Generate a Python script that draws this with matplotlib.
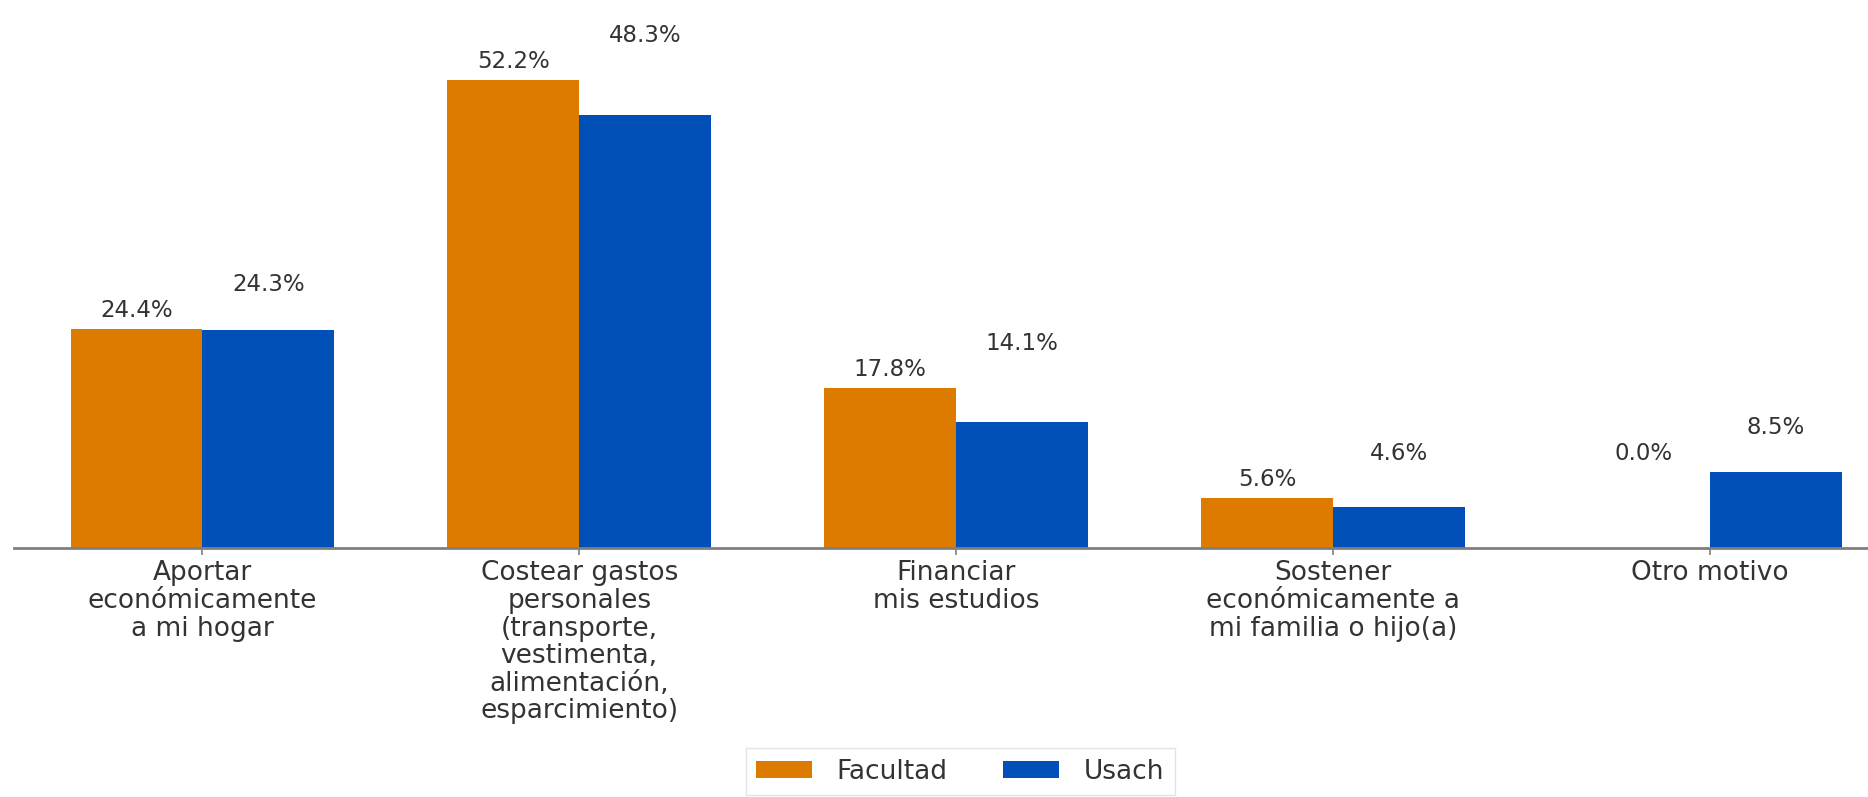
import matplotlib.pyplot as plt
import numpy as np

# Datos
categorias = [
    "Aportar\neconómicamente\na mi hogar",
    "Costear gastos\npersonales\n(transporte,\nvestimenta,\nalimentación,\nesparcimiento)",
    "Financiar\nmis estudios",
    "Sostener\neconómicamente a\nmi familia o hijo(a)",
    "Otro motivo",
]
facultad = [24.4, 52.2, 17.8, 5.6, 0.0]
usach = [24.3, 48.3, 14.1, 4.6, 8.5]
series = ["Facultad", "Usach"]

color_fac = '#dc7b00'
color_usa = '#0050b7'
color_texto = '#333333'

plt.rcParams['font.family'] = 'DejaVu Sans'
plt.rcParams['font.size'] = 19

fig = plt.figure(figsize=(18.68, 7.97), dpi=100)
ax = fig.add_axes([14 / 1868, 1 - 548 / 797, 1 - 14 / 1868, 548 / 797])

x = np.arange(len(categorias))
ancho = 0.35
ax.bar(x - ancho / 2, facultad, ancho, color=color_fac, label=series[0])
ax.bar(x + ancho / 2, usach, ancho, color=color_usa, label=series[1])

# Etiquetas de porcentaje sobre el máximo de cada grupo
for i in range(len(categorias)):
    tope = max(facultad[i], usach[i])
    ax.text(x[i] - ancho / 2, tope + 0.8, f"{facultad[i]:.1f}%",
            ha='center', va='bottom', fontsize=16.5, color=color_texto)
    ax.text(x[i] + ancho / 2, tope + 3.7, f"{usach[i]:.1f}%",
            ha='center', va='bottom', fontsize=16.5, color=color_texto)

ax.set_xlim(-0.5, 4.42)
ax.set_ylim(0, 61.1)
ax.set_xticks(x)
ax.set_xticklabels(categorias, fontsize=19, color=color_texto, linespacing=1.08)
ax.set_yticks([])
for lado in ['top', 'right', 'left']:
    ax.spines[lado].set_visible(False)
ax.spines['bottom'].set_color('#7f7f7f')
ax.spines['bottom'].set_linewidth(2)
ax.tick_params(axis='x', length=5, width=1.2, color='#7f7f7f', pad=4)

fig.legend(loc='upper center', bbox_to_anchor=(0.514, 1 - 748 / 797), ncol=2,
           fontsize=19, frameon=True, fancybox=False, edgecolor='#dddddd',
           borderaxespad=0, handlelength=2.1, handleheight=0.63,
           handletextpad=0.95, columnspacing=2.1, labelcolor=color_texto)

fig.savefig('out.png', dpi=100)
